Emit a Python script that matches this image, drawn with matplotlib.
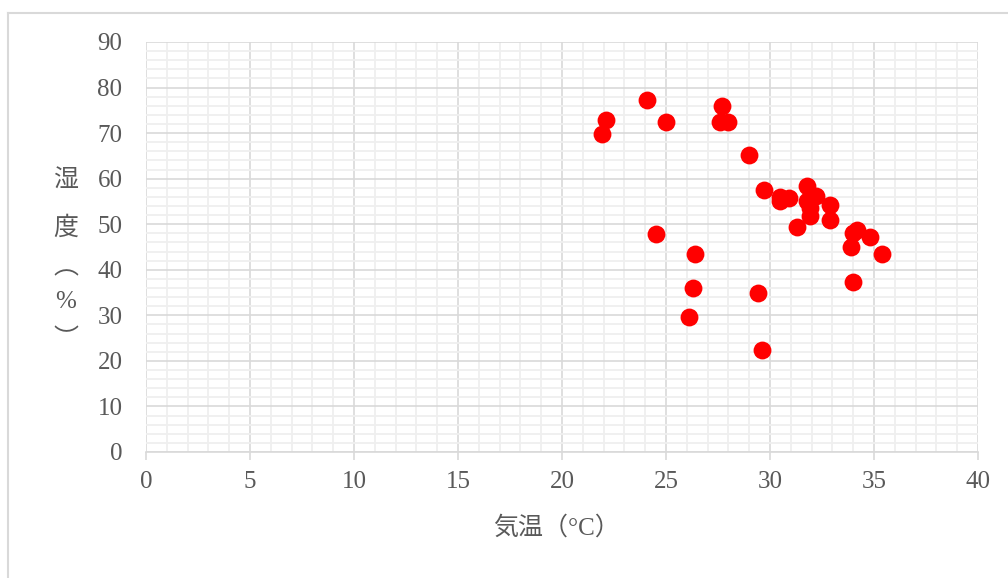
import matplotlib
matplotlib.use("Agg")
import matplotlib.pyplot as plt
from matplotlib.lines import Line2D
from matplotlib.ticker import MultipleLocator

# Data
temperature = [21.9, 22.1, 24.1, 25.0, 27.7, 27.6, 28.0, 29.0, 29.7, 30.5, 30.5, 30.9,
               31.8, 32.2, 31.8, 31.9, 31.9, 32.9, 32.9, 31.3, 34.2, 34.0, 34.8, 33.9,
               35.4, 24.5, 26.4, 26.3, 29.4, 26.1, 29.6, 34.0]
humidity = [69.9, 72.9, 77.3, 72.4, 76.0, 72.5, 72.4, 65.1, 57.6, 56.0, 55.1, 55.8,
            58.5, 56.2, 55.0, 53.5, 51.8, 54.3, 51.0, 49.4, 48.7, 48.0, 47.1, 45.1,
            43.5, 47.9, 43.5, 36.0, 34.8, 29.6, 22.4, 37.3]

x_label = "気温（°C）"
y_label_chars = ["湿", "度", "︵", "%", "︶"]

fam = ["Liberation Serif", "Noto Sans CJK JP", "DejaVu Sans"]
plt.rcParams['font.family'] = fam
gray = "#595959"

fig = plt.figure(figsize=(10.08, 5.78), dpi=100)
ax = fig.add_axes([146/1008, 1-452/578, (978-146)/1008, (452-42)/578])

ax.scatter(temperature, humidity, s=165, color="#FF0000", zorder=3, linewidths=0)

ax.set_xlim(0, 40)
ax.set_ylim(0, 90)
ax.xaxis.set_major_locator(MultipleLocator(5))
ax.xaxis.set_minor_locator(MultipleLocator(1))
ax.yaxis.set_major_locator(MultipleLocator(10))
ax.yaxis.set_minor_locator(MultipleLocator(2))

ax.grid(which="minor", color="#EFEFEF", linewidth=1.3, zorder=0)
ax.grid(which="major", color="#D9D9D9", linewidth=1.2, zorder=1)
ax.set_axisbelow(True)

for s in ["top", "right", "left"]:
    ax.spines[s].set_visible(False)
ax.spines["bottom"].set_color("#D9D9D9")
ax.spines["bottom"].set_linewidth(1.2)

ax.tick_params(axis="x", which="major", length=6, width=1.2, color="#D9D9D9",
               pad=8, labelsize=18, labelcolor=gray)
ax.tick_params(axis="x", which="minor", length=0)
ax.tick_params(axis="y", which="both", length=0, pad=17, labelsize=18, labelcolor=gray)

fig.text(556/1008, 1-528/578, x_label, ha="center", va="center", fontsize=18,
         color=gray, family=fam)

ys = [182, 228, 268, 302, 340]
for ch, yy in zip(y_label_chars, ys):
    fig.text(66/1008, 1-yy/578, ch, ha="center", va="center", fontsize=18,
             color=gray, family=fam)

# chart area border
fig.add_artist(Line2D([8/1008, 1.0], [1-13/578, 1-13/578], color="#D9D9D9", lw=1.5,
                      transform=fig.transFigure))
fig.add_artist(Line2D([8/1008, 8/1008], [0.0, 1-13/578], color="#D9D9D9", lw=1.5,
                      transform=fig.transFigure))

fig.savefig("out.png", dpi=100)
